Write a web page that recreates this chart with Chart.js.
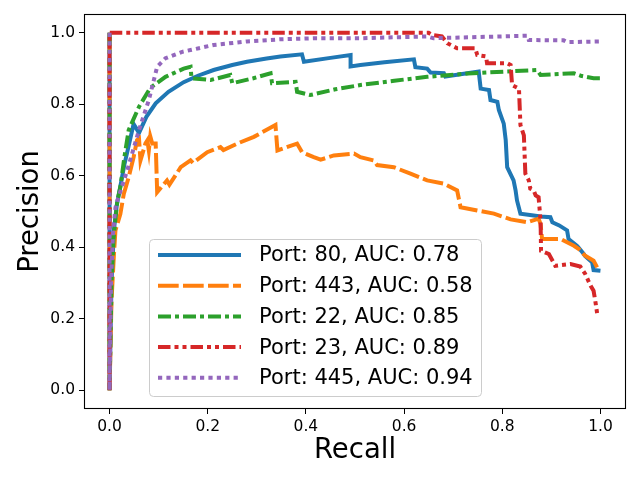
<!DOCTYPE html>
<html>
<head>
<meta charset="utf-8">
<script src="https://cdn.jsdelivr.net/npm/chart.js@4.4.0/dist/chart.umd.min.js"></script>
<style>
  html, body { margin: 0; padding: 0; background: #fff; }
  canvas { display: block; }
</style>
</head>
<body>
<canvas id="myChart" width="640" height="480" style="width:640px;height:480px"></canvas>
<script>
// legend info
var ports = ['80', '443', '22', '23', '445'];
var aucs = ['0.78', '0.58', '0.85', '0.89', '0.94'];
var tickValues = [0, 0.2, 0.4, 0.6, 0.8, 1.0];

var recall80 = [0, 0, 0.004, 0.009, 0.015, 0.022, 0.030, 0.040, 0.049, 0.060, 0.075, 0.094, 0.120, 0.151, 0.180, 0.212, 0.250, 0.280, 0.320, 0.348,
  0.392, 0.396, 0.450, 0.491, 0.491, 0.511, 0.560, 0.620, 0.623, 0.647, 0.654, 0.681, 0.684, 0.752, 0.756, 0.773, 0.776, 0.790, 0.793, 0.803,
  0.807, 0.810, 0.823, 0.827, 0.830, 0.834, 0.837, 0.864, 0.878, 0.898, 0.902, 0.916, 0.932, 0.935, 0.952, 0.955, 0.966, 0.969, 0.983, 0.986, 1.000];
var precision80 = [1.0, 0.0, 0.30, 0.45, 0.52, 0.57, 0.63, 0.69, 0.745, 0.72, 0.765, 0.803, 0.835, 0.862, 0.880, 0.896, 0.910, 0.919, 0.928, 0.934,
  0.940, 0.919, 0.930, 0.938, 0.906, 0.910, 0.918, 0.926, 0.904, 0.900, 0.889, 0.887, 0.878, 0.892, 0.844, 0.840, 0.812, 0.807, 0.784, 0.746,
  0.700, 0.624, 0.587, 0.560, 0.531, 0.510, 0.494, 0.489, 0.486, 0.484, 0.470, 0.461, 0.447, 0.423, 0.404, 0.400, 0.381, 0.375, 0.358, 0.336, 0.334];

var recall443 = [0, 0, 0.004, 0.009, 0.012, 0.022, 0.029, 0.039, 0.049, 0.056, 0.060, 0.063, 0.073, 0.077, 0.080, 0.083, 0.087, 0.094, 0.097, 0.117,
  0.122, 0.145, 0.165, 0.170, 0.199, 0.226, 0.232, 0.260, 0.294, 0.338, 0.342, 0.382, 0.392, 0.416, 0.430, 0.457, 0.498, 0.511, 0.538, 0.545,
  0.579, 0.613, 0.647, 0.681, 0.708, 0.715, 0.749, 0.783, 0.817, 0.851, 0.874, 0.878, 0.881, 0.919, 0.946, 0.956, 0.969, 0.986, 0.997];
var precision443 = [1.0, 0.0, 0.25, 0.381, 0.447, 0.493, 0.549, 0.596, 0.652, 0.700, 0.704, 0.643, 0.690, 0.699, 0.671, 0.710, 0.690, 0.690, 0.554, 0.587,
  0.575, 0.624, 0.643, 0.636, 0.666, 0.680, 0.672, 0.690, 0.709, 0.742, 0.671, 0.690, 0.666, 0.652, 0.645, 0.657, 0.662, 0.652, 0.643, 0.630,
  0.624, 0.606, 0.587, 0.578, 0.559, 0.512, 0.503, 0.494, 0.478, 0.470, 0.480, 0.465, 0.423, 0.423, 0.404, 0.395, 0.376, 0.362, 0.334];

var recall22 = [0, 0, 0.004, 0.008, 0.012, 0.016, 0.022, 0.030, 0.039, 0.060, 0.083, 0.114, 0.151, 0.165, 0.167, 0.206, 0.246, 0.250, 0.293, 0.328,
  0.331, 0.379, 0.382, 0.409, 0.460, 0.511, 0.580, 0.647, 0.730, 0.810, 0.871, 0.878, 0.946, 0.960, 0.986, 1.000];
var precision22 = [1.0, 0.0, 0.30, 0.42, 0.48, 0.531, 0.568, 0.650, 0.728, 0.793, 0.846, 0.877, 0.900, 0.905, 0.873, 0.868, 0.882, 0.859, 0.873, 0.887,
  0.859, 0.863, 0.835, 0.826, 0.842, 0.854, 0.866, 0.877, 0.886, 0.892, 0.896, 0.882, 0.887, 0.880, 0.873, 0.873];

var recall23 = [0, 0, 0.650, 0.657, 0.677, 0.688, 0.708, 0.745, 0.749, 0.767, 0.769, 0.810, 0.817, 0.820, 0.834, 0.837, 0.844, 0.847, 0.854, 0.857,
  0.864, 0.868, 0.874, 0.878, 0.879, 0.895, 0.908, 0.939, 0.959, 0.969, 0.980, 0.986, 0.990, 0.994];
var precision23 = [0.0, 1.0, 1.0, 0.994, 0.990, 0.971, 0.957, 0.957, 0.938, 0.934, 0.915, 0.915, 0.910, 0.854, 0.844, 0.742, 0.713, 0.606, 0.587, 0.564,
  0.559, 0.545, 0.540, 0.475, 0.390, 0.381, 0.348, 0.353, 0.346, 0.325, 0.292, 0.278, 0.245, 0.208];

var recall445 = [0, 0, 0.003, 0.007, 0.012, 0.016, 0.036, 0.060, 0.080, 0.097, 0.114, 0.148, 0.165, 0.212, 0.280, 0.348, 0.416, 0.511, 0.647, 0.660,
  0.851, 0.854, 0.925, 0.932, 1.000];
var precision445 = [1.0, 0.0, 0.30, 0.44, 0.51, 0.531, 0.615, 0.728, 0.812, 0.905, 0.929, 0.947, 0.952, 0.966, 0.976, 0.982, 0.985, 0.985, 0.990, 0.985,
  0.992, 0.980, 0.979, 0.974, 0.976];

var recalls = [recall80, recall443, recall22, recall23, recall445];
var precisions = [precision80, precision443, precision22, precision23, precision445];
var colors = ['#1f77b4', '#ff7f0e', '#2ca02c', '#d62728', '#9467bd'];
var dashes = [[], [20.7, 4.3], [13, 4, 4, 4], [12.5, 4, 4, 4, 4, 4], [4.2, 4.2]];

Chart.defaults.font.family = '"DejaVu Sans", sans-serif';
Chart.defaults.color = '#000';

var datasets = ports.map(function(p, i) {
  return {
    label: 'Port: ' + p + ', AUC: ' + aucs[i],
    data: recalls[i].map(function(r, j) { return { x: r, y: precisions[i][j] }; }),
    borderColor: colors[i],
    backgroundColor: colors[i],
    borderWidth: 4,
    borderDash: dashes[i],
    showLine: true,
    pointRadius: 0,
    tension: 0,
    fill: false,
    order: -i
  };
});

// box round the axes (matplotlib spines)
var frame = {
  id: 'frame',
  afterDatasetsDraw: function(chart) {
    var a = chart.chartArea, ctx = chart.ctx;
    ctx.save();
    ctx.strokeStyle = '#000';
    ctx.lineWidth = 1.1;
    ctx.strokeRect(a.left - 0.5, a.top - 0.5, a.right - a.left + 1, a.bottom - a.top + 1);
    ctx.restore();
  }
};

var legendBox = {
  id: 'legendBox',
  afterDraw: function(chart) {
    var ctx = chart.ctx;
    ctx.save();
    ctx.beginPath();
    ctx.roundRect(149.5, 239.5, 332, 157, 4);
    ctx.fillStyle = 'rgba(255,255,255,0.8)';
    ctx.fill();
    ctx.strokeStyle = '#cccccc';
    ctx.lineWidth = 1;
    ctx.stroke();
    ctx.font = '21px "DejaVu Sans"';
    ctx.textBaseline = 'middle';
    chart.data.datasets.forEach(function(ds, i) {
      var y = 255 + i * 30.7;
      ctx.beginPath();
      ctx.setLineDash(ds.borderDash);
      ctx.lineWidth = 4;
      ctx.strokeStyle = ds.borderColor;
      ctx.moveTo(158, y);
      ctx.lineTo(241, y);
      ctx.stroke();
      ctx.setLineDash([]);
      ctx.fillStyle = '#000';
      ctx.fillText(ds.label, 259, y + 1);
    });
    ctx.restore();
  }
};

function setTicks(scale) {
  scale.ticks = tickValues.map(function(v) { return { value: v }; });
}

var ctx = document.getElementById('myChart').getContext('2d');
var myChart = new Chart(ctx, {
  type: 'scatter',
  data: { datasets: datasets },
  options: {
    responsive: false,
    animation: false,
    devicePixelRatio: 1,
    layout: { padding: { top: 15, right: 15, left: 0, bottom: 0 } },
    plugins: { legend: { display: false }, tooltip: { enabled: false } },
    scales: {
      x: {
        type: 'linear', min: -0.05, max: 1.05,
        afterBuildTicks: setTicks,
        afterFit: function(s) { s.height = 72; },
        border: { display: false },
        grid: { drawOnChartArea: false, drawTicks: true, tickLength: 6, color: '#000' },
        ticks: { padding: 4, font: { size: 15.5 }, maxRotation: 0, autoSkip: false,
          callback: function(v) { return v.toFixed(1); } },
        title: { display: true, text: 'Recall', font: { size: 27.5 }, padding: { top: 0, bottom: 13 } }
      },
      y: {
        type: 'linear', min: -0.05, max: 1.05,
        afterBuildTicks: setTicks,
        afterFit: function(s) { s.width = 85; },
        border: { display: false },
        grid: { drawOnChartArea: false, drawTicks: true, tickLength: 6, color: '#000' },
        ticks: { padding: 4, font: { size: 15.5 }, autoSkip: false,
          callback: function(v) { return v.toFixed(1); } },
        title: { display: true, text: 'Precision', font: { size: 27.5 }, padding: { top: 14, bottom: 0 } }
      }
    }
  },
  plugins: [frame, legendBox]
});
</script>
</body>
</html>
